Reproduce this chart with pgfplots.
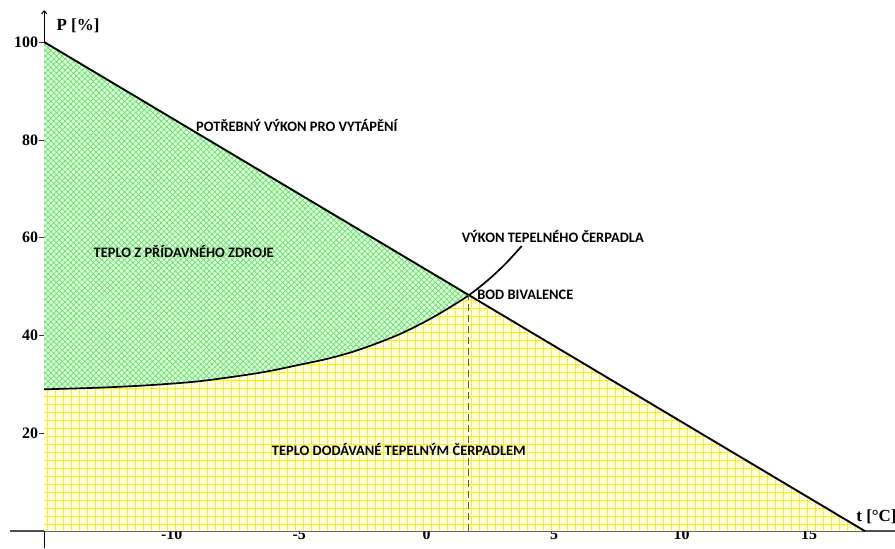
\documentclass[border=0pt]{standalone}
\usepackage{pgfplots}
\pgfplotsset{compat=1.18}
\usepackage{fontspec}
\setmainfont{Liberation Serif}
\newfontfamily\annfont{Carlito}
\usetikzlibrary{patterns.meta,arrows.meta}
\definecolor{hatchgreen}{RGB}{95,228,95}
\definecolor{gridyellow}{RGB}{255,242,0}
\begin{document}
\begin{tikzpicture}
\begin{axis}[
  scale only axis, width=851bp, height=538bp,
  xmin=-15, xmax=18.37, ymin=-3.48, ymax=106.5,
  axis x line=middle, axis y line=left,
  x axis line style={-, line width=1.3pt, black!70},
  y axis line style={-{To[length=4bp,width=6bp]}, line width=1.1pt, black},
  clip=false,
  xtick={-10,-5,0,5,10,15},
  xticklabels={-10,-5,0,5,10,15},
  ytick={20,40,60,80,100},
  yticklabels={20,40,60,80,100},
  xtick align=inside, ytick align=outside,
  major tick length=5bp,
  tick style={black!80, line width=0.6pt},
  tick label style={font=\bfseries\fontsize{16}{16}\selectfont},
  xticklabel style={anchor=north, yshift=3bp, inner sep=1bp},
  yticklabel style={anchor=east, inner sep=1bp},
]
% yellow region (heat from heat pump)
\addplot[draw=none, fill=yellow!9,
  postaction={pattern={Hatch[angle=0,distance=8bp,line width=1pt]}, pattern color=gridyellow}]
  coordinates {(-15,0) (-15,29.0) (-13,29.3) (-11,29.8) (-9,30.6) (-7,32.0) (-6,32.9) (-5,34.0)
  (-4,35.1) (-3,36.5) (-2,38.3) (-1,40.4) (0,43.0) (0.8,45.4) (1.66,48.25) (17.19,0)} -- cycle;
% green region (additional source)
\addplot[draw=none, fill=green!10,
  postaction={pattern={Hatch[angle=45,distance=4bp,line width=0.7pt]}, pattern color=hatchgreen}]
  coordinates {(-15,100) (1.66,48.25) (0.8,45.4) (0,43.0) (-1,40.4) (-2,38.3) (-3,36.5) (-4,35.1)
  (-5,34.0) (-6,32.9) (-7,32.0) (-9,30.6) (-11,29.8) (-13,29.3) (-15,29.0)} -- cycle;
% heat pump output
\addplot[black, line width=1.7pt, smooth, tension=0.5] coordinates {(-15,29.0) (-13,29.3) (-11,29.8) (-9,30.6) (-7,32.0) (-6,32.9) (-5,34.0)
  (-4,35.1) (-3,36.5) (-2,38.3) (-1,40.4) (0,43.0) (0.8,45.4) (1.66,48.25) (2.4,51.3) (3.1,54.7) (3.73,58.3)};
% heating demand
\addplot[black, line width=1.9pt] coordinates {(-15,100) (17.19,0)};
% bivalence dashed
\addplot[black!65, dash pattern=on 7bp off 4bp, line width=1pt] coordinates {(1.66,0) (1.66,48.25)};

\draw[line width=1.3pt, black!70] (axis cs:-16.34,0) -- (axis cs:-15,0);

\node[anchor=west, font=\bfseries\fontsize{17}{17}\selectfont] at (axis cs:-14.65,103.3) {P [\%]};
\node[anchor=west, font=\bfseries\fontsize{17}{17}\selectfont] at (axis cs:16.72,2.9) {t [°C]};

\node[font=\annfont\bfseries\fontsize{14.5}{14.5}\selectfont] at (axis cs:-5.09,83.0) {POTŘEBNÝ VÝKON PRO VYTÁPĚNÍ};
\node[font=\annfont\bfseries\fontsize{14.5}{14.5}\selectfont] at (axis cs:4.95,60.2) {VÝKON TEPELNÉHO ČERPADLA};
\node[anchor=west, font=\annfont\bfseries\fontsize{14.5}{14.5}\selectfont] at (axis cs:1.85,48.4) {BOD BIVALENCE};
\node[font=\annfont\bfseries\fontsize{14.5}{14.5}\selectfont] at (axis cs:-9.53,57.1) {TEPLO Z PŘÍDAVNÉHO ZDROJE};
\node[font=\annfont\bfseries\fontsize{14.5}{14.5}\selectfont] at (axis cs:-1.09,16.6) {TEPLO DODÁVANÉ TEPELNÝM ČERPADLEM};

\coordinate (bbA) at (axis cs:-16.734,108.6);
\coordinate (bbB) at (axis cs:18.37,-3.48);
\end{axis}
\pgfresetboundingbox
\useasboundingbox (bbA) rectangle (bbB);
\end{tikzpicture}
\end{document}
